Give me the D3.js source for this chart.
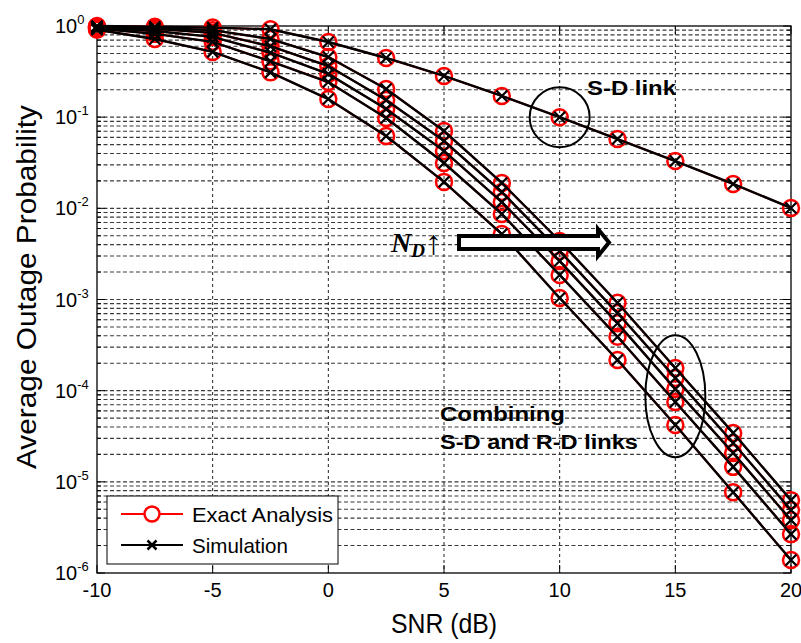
<!DOCTYPE html>
<html>
<head>
<meta charset="utf-8">
<script src="https://cdn.jsdelivr.net/npm/d3@7"></script>
<style>
    body { margin: 0; background: #fff; }
    svg text { font-family: Arial, "Liberation Sans", sans-serif; }
    svg text.serif { font-family: "Liberation Serif", "Times New Roman", serif; }
</style>
</head>
<body>
<svg id="chart" width="801" height="643"></svg>
<script>
// SNR points (dB)
const snrDb = [-10, -7.5, -5, -2.5, 0, 2.5, 5, 7.5, 10, 12.5, 15, 17.5, 20];

// S-D link only
const sdLink = [1.0, 0.98, 0.96, 0.92, 0.667, 0.446, 0.283, 0.171, 0.10, 0.0576, 0.033, 0.0185, 0.0101];

// combining S-D and R-D links, N_D = 1 (lowest) .. 5 (highest)
const combNd1 = [0.91, 0.72, 0.52, 0.31, 0.158, 0.062, 0.0195, 0.00523, 0.00104, 2.17e-4, 4.2e-5, 7.7e-6, 1.39e-6];
const combNd2 = [0.94, 0.82, 0.67, 0.41, 0.243, 0.098, 0.0314, 0.00865, 0.00186, 3.9e-4, 7.5e-5, 1.46e-5, 2.67e-6];
const combNd3 = [0.96, 0.88, 0.76, 0.51, 0.298, 0.123, 0.0426, 0.0117, 0.00264, 5.5e-4, 1.04e-4, 2.07e-5, 3.8e-6];
const combNd4 = [0.97, 0.93, 0.84, 0.60, 0.364, 0.154, 0.0548, 0.0151, 0.00340, 7.1e-4, 1.38e-4, 2.67e-5, 4.9e-6];
const combNd5 = [0.98, 0.95, 0.90, 0.72, 0.457, 0.204, 0.0705, 0.0190, 0.00438, 9.2e-4, 1.77e-4, 3.44e-5, 6.3e-6];

const xTicks = [-10, -5, 0, 5, 10, 15, 20];
const yExponents = [0, -1, -2, -3, -4, -5, -6];
const legendLabels = ['Exact Analysis', 'Simulation'];

const curves = [sdLink, combNd1, combNd2, combNd3, combNd4, combNd5];

const svg = d3.select('#chart');
const pLeft = 97, pRight = 791, pTop = 26, pBottom = 573;

const x = d3.scaleLinear().domain([-10, 20]).range([pLeft, pRight]);
const y = d3.scaleLog().domain([1e-6, 1]).range([pBottom, pTop]);

// grid
const gridVals = [];
yExponents.forEach(e => {
    if (e === 0) return;
    for (let m = 1; m <= 9; m++) gridVals.push(m * Math.pow(10, e));
});
svg.append('g').selectAll('line')
    .data(gridVals.filter(v => v > 1e-6 * 1.01))
    .enter().append('line')
    .attr('x1', pLeft).attr('x2', pRight)
    .attr('y1', d => y(d)).attr('y2', d => y(d))
    .attr('stroke', '#3a3a3a').attr('stroke-width', 1.1)
    .attr('stroke-dasharray', '4,2.5');

svg.append('g').selectAll('line')
    .data(xTicks.slice(1, -1))
    .enter().append('line')
    .attr('x1', d => x(d)).attr('x2', d => x(d))
    .attr('y1', pTop).attr('y2', pBottom)
    .attr('stroke', '#222').attr('stroke-width', 1)
    .attr('stroke-dasharray', '3,3');

// axis box and inward ticks
const axes = svg.append('g').attr('stroke', '#000');
axes.append('rect')
    .attr('x', pLeft).attr('y', pTop)
    .attr('width', pRight - pLeft).attr('height', pBottom - pTop)
    .attr('fill', 'none').attr('stroke-width', 1.3);

xTicks.forEach(t => {
    axes.append('line').attr('x1', x(t)).attr('x2', x(t)).attr('y1', pBottom).attr('y2', pBottom - 8);
    axes.append('line').attr('x1', x(t)).attr('x2', x(t)).attr('y1', pTop).attr('y2', pTop + 8);
});
yExponents.forEach(e => {
    const yy = y(Math.pow(10, e));
    axes.append('line').attr('x1', pLeft).attr('x2', pLeft + 8).attr('y1', yy).attr('y2', yy);
    axes.append('line').attr('x1', pRight).attr('x2', pRight - 8).attr('y1', yy).attr('y2', yy);
});
gridVals.filter(v => Math.abs(Math.log10(v) % 1) > 0.01).forEach(v => {
    axes.append('line').attr('x1', pLeft).attr('x2', pLeft + 4).attr('y1', y(v)).attr('y2', y(v));
    axes.append('line').attr('x1', pRight).attr('x2', pRight - 4).attr('y1', y(v)).attr('y2', y(v));
});

// tick labels
svg.append('g').selectAll('text')
    .data(xTicks)
    .enter().append('text')
    .attr('x', d => x(d)).attr('y', 597)
    .attr('text-anchor', 'middle')
    .attr('font-size', 20)
    .text(d => d);

const yLab = svg.append('g').selectAll('text')
    .data(yExponents)
    .enter().append('text')
    .attr('x', 55).attr('y', d => y(Math.pow(10, d)) + 7)
    .attr('font-size', 20);
yLab.append('tspan').text('10');
yLab.append('tspan').attr('font-size', 13).attr('dy', -9).text(d => d === 0 ? '0' : '-' + Math.abs(d));

// axis titles
svg.append('text')
    .attr('x', 444).attr('y', 633)
    .attr('text-anchor', 'middle')
    .attr('font-size', 27)
    .attr('textLength', 106).attr('lengthAdjust', 'spacingAndGlyphs')
    .text('SNR (dB)');

svg.append('text')
    .attr('transform', 'translate(36,287) rotate(-90)')
    .attr('text-anchor', 'middle')
    .attr('font-size', 27)
    .attr('textLength', 364).attr('lengthAdjust', 'spacingAndGlyphs')
    .text('Average Outage Probability');

// curves: exact (red, circles) under simulation (black, crosses)
const line = d3.line()
    .x((d, i) => x(snrDb[i]))
    .y(d => y(d));

const plot = svg.append('g');
curves.forEach(vals => {
    plot.append('path').attr('d', line(vals))
        .attr('fill', 'none').attr('stroke', '#f00').attr('stroke-width', 2);
});
curves.forEach(vals => {
    plot.append('g').selectAll('circle')
        .data(vals).enter().append('circle')
        .attr('cx', (d, i) => x(snrDb[i])).attr('cy', d => y(d))
        .attr('r', 8).attr('fill', 'none')
        .attr('stroke', '#f00').attr('stroke-width', 2.5);
});
curves.forEach(vals => {
    plot.append('path').attr('d', line(vals))
        .attr('fill', 'none').attr('stroke', '#000').attr('stroke-width', 2.4);
});
const cross = s => `M${-s},${-s}L${s},${s}M${-s},${s}L${s},${-s}`;
curves.forEach(vals => {
    plot.append('g').selectAll('path')
        .data(vals).enter().append('path')
        .attr('transform', (d, i) => `translate(${x(snrDb[i])},${y(d)})`)
        .attr('d', cross(5.5))
        .attr('stroke', '#000').attr('stroke-width', 2.2);
});

// annotations
const notes = svg.append('g');
notes.append('circle')
    .attr('cx', x(10)).attr('cy', y(0.1)).attr('r', 30)
    .attr('fill', 'none').attr('stroke', '#000').attr('stroke-width', 2);
notes.append('text')
    .attr('x', 587).attr('y', 95)
    .attr('font-size', 21).attr('font-weight', 'bold')
    .attr('textLength', 89).attr('lengthAdjust', 'spacingAndGlyphs')
    .text('S-D link');

notes.append('ellipse')
    .attr('cx', x(15)).attr('cy', y(8.7e-5)).attr('rx', 30).attr('ry', 61)
    .attr('fill', 'none').attr('stroke', '#000').attr('stroke-width', 2);
notes.append('text')
    .attr('x', 440).attr('y', 421)
    .attr('font-size', 20).attr('font-weight', 'bold')
    .attr('textLength', 125).attr('lengthAdjust', 'spacingAndGlyphs')
    .text('Combining');
notes.append('text')
    .attr('x', 440).attr('y', 449)
    .attr('font-size', 20).attr('font-weight', 'bold')
    .attr('textLength', 198).attr('lengthAdjust', 'spacingAndGlyphs')
    .text('S-D and R-D links');

// hollow arrow  N_D increasing
notes.append('path')
    .attr('d', 'M459,236L598,236L598,229L609,242.5L598,256L598,249L459,249Z')
    .attr('fill', '#fff').attr('stroke', '#000').attr('stroke-width', 4)
    .attr('stroke-linejoin', 'miter');
const nd = notes.append('text')
    .attr('class', 'serif')
    .attr('x', 391).attr('y', 252);
nd.append('tspan').attr('font-size', 28).attr('font-weight', 'bold').attr('font-style', 'italic').text('N');
nd.append('tspan').attr('font-size', 19).attr('font-weight', 'bold').attr('font-style', 'italic').attr('dy', 5).text('D');
nd.append('tspan').attr('font-size', 34).attr('dy', -3).attr('dx', 0).text('\u2191');

// legend
const lg = svg.append('g');
lg.append('rect')
    .attr('x', 107).attr('y', 496).attr('width', 231).attr('height', 68)
    .attr('fill', '#fff').attr('stroke', '#000').attr('stroke-width', 1);
legendLabels.forEach((lab, i) => {
    const ly = 514 + i * 31;
    const col = i === 0 ? '#f00' : '#000';
    lg.append('line').attr('x1', 121).attr('x2', 183).attr('y1', ly).attr('y2', ly)
        .attr('stroke', col).attr('stroke-width', 2.2);
    if (i === 0) {
        lg.append('circle').attr('cx', 152).attr('cy', ly).attr('r', 7.5)
            .attr('fill', '#fff').attr('stroke', '#f00').attr('stroke-width', 2.5);
    } else {
        lg.append('path').attr('transform', `translate(152,${ly})`).attr('d', cross(4.5))
            .attr('stroke', '#000').attr('stroke-width', 2.5);
    }
    lg.append('text').attr('x', 192).attr('y', ly + 8)
        .attr('font-size', 21).attr('lengthAdjust', 'spacingAndGlyphs')
        .attr('textLength', i === 0 ? 141 : 96)
        .text(lab);
});
</script>
</body>
</html>
